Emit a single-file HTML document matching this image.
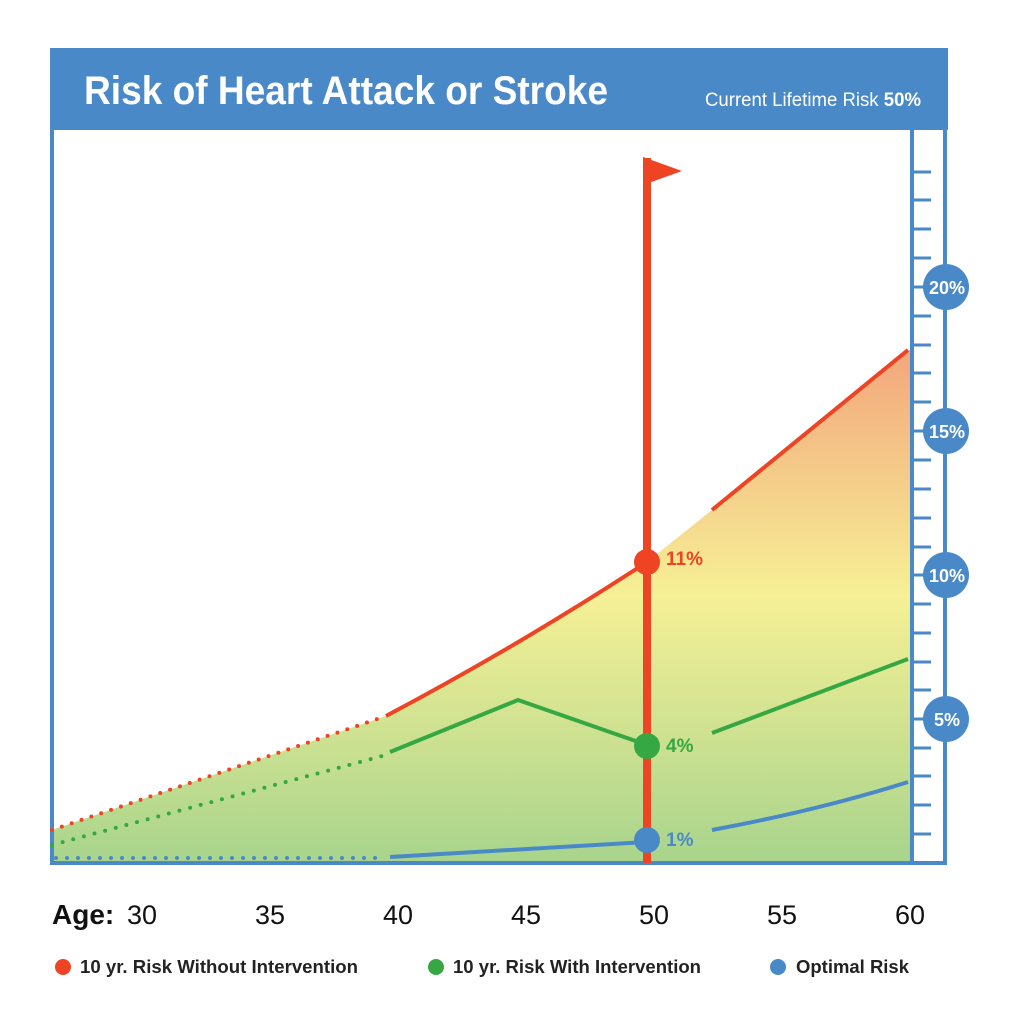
<!DOCTYPE html>
<html><head><style>
body{margin:0;background:#fff;}
svg text{font-family:"Liberation Sans",sans-serif;}
</style></head><body>
<svg width="1024" height="1019" viewBox="0 0 1024 1019" xmlns="http://www.w3.org/2000/svg">
<defs>
<linearGradient id="g" x1="0" y1="350" x2="0" y2="862" gradientUnits="userSpaceOnUse">
<stop offset="0" stop-color="#f3a67c"/>
<stop offset="0.48" stop-color="#f6f096"/>
<stop offset="1" stop-color="#a8d48c"/>
</linearGradient>
</defs>
<rect x="0" y="0" width="1024" height="1019" fill="#fff"/>
<!-- fill -->
<path d="M52,830 L386,716 Q520,645 647,562 L712,510 L910,350 L910,862 L52,862 Z" fill="url(#g)"/>
<!-- header -->
<rect x="50" y="48" width="898" height="82" fill="#4a89c8"/>
<text x="84" y="104" font-size="40" font-weight="bold" fill="#fff" textLength="524" lengthAdjust="spacingAndGlyphs">Risk of Heart Attack or Stroke</text>
<text x="705" y="106" font-size="19" fill="#fff" textLength="216" lengthAdjust="spacingAndGlyphs">Current Lifetime Risk <tspan font-weight="bold">50%</tspan></text>
<!-- frame -->
<line x1="52" y1="130" x2="52" y2="864" stroke="#4a89c8" stroke-width="4"/>
<line x1="50" y1="863" x2="947" y2="863" stroke="#4a89c8" stroke-width="4"/>
<line x1="912" y1="130" x2="912" y2="864" stroke="#4a89c8" stroke-width="4"/>
<line x1="945" y1="130" x2="945" y2="864" stroke="#4a89c8" stroke-width="4"/>
<g stroke="#4a89c8" stroke-width="3">
<line x1="912" y1="172" x2="931" y2="172"/><line x1="912" y1="200" x2="931" y2="200"/><line x1="912" y1="229" x2="931" y2="229"/><line x1="912" y1="258" x2="931" y2="258"/><line x1="912" y1="287" x2="931" y2="287"/><line x1="912" y1="316" x2="931" y2="316"/><line x1="912" y1="345" x2="931" y2="345"/><line x1="912" y1="373" x2="931" y2="373"/><line x1="912" y1="402" x2="931" y2="402"/><line x1="912" y1="431" x2="931" y2="431"/><line x1="912" y1="460" x2="931" y2="460"/><line x1="912" y1="489" x2="931" y2="489"/><line x1="912" y1="518" x2="931" y2="518"/><line x1="912" y1="547" x2="931" y2="547"/><line x1="912" y1="575" x2="931" y2="575"/><line x1="912" y1="604" x2="931" y2="604"/><line x1="912" y1="633" x2="931" y2="633"/><line x1="912" y1="662" x2="931" y2="662"/><line x1="912" y1="690" x2="931" y2="690"/><line x1="912" y1="719" x2="931" y2="719"/><line x1="912" y1="748" x2="931" y2="748"/><line x1="912" y1="776" x2="931" y2="776"/><line x1="912" y1="805" x2="931" y2="805"/><line x1="912" y1="834" x2="931" y2="834"/>
</g>
<g fill="#4a89c8"><circle cx="946" cy="287" r="23"/><circle cx="946" cy="431" r="23"/><circle cx="946" cy="575" r="23"/><circle cx="946" cy="719" r="23"/></g>
<g fill="#fff" font-size="18" font-weight="bold" text-anchor="middle">
<text x="947" y="294">20%</text><text x="947" y="438">15%</text><text x="947" y="582">10%</text><text x="947" y="726">5%</text>
</g>
<!-- red line -->
<path d="M52,830 L386,716" stroke="#ee4423" stroke-width="4" stroke-dasharray="0 10.4" stroke-linecap="round" fill="none"/>
<path d="M386,716 Q520,645 647,562" stroke="#ee4423" stroke-width="4" fill="none"/>
<path d="M712,510 L908,350" stroke="#ee4423" stroke-width="4" fill="none"/>
<!-- green -->
<path d="M52,845 L386,755" stroke="#35a844" stroke-width="4" stroke-dasharray="0 11" stroke-linecap="round" fill="none"/>
<path d="M390,752 L518,700 L647,745" stroke="#35a844" stroke-width="4" fill="none"/>
<path d="M712,733 L908,659" stroke="#35a844" stroke-width="4" fill="none"/>
<!-- blue -->
<path d="M56,858 L386,858" stroke="#4a89c8" stroke-width="4" stroke-dasharray="0 11" stroke-linecap="round" fill="none"/>
<path d="M390,857 L647,842" stroke="#4a89c8" stroke-width="4" fill="none"/>
<path d="M712,830 Q820,810 908,782" stroke="#4a89c8" stroke-width="4" fill="none"/>
<!-- flag -->
<rect x="643" y="158" width="8" height="705" fill="#ee4423"/>
<path d="M643,157 L682,171 L643,185 Z" fill="#ee4423"/>
<circle cx="647" cy="562" r="13" fill="#ee4423"/>
<circle cx="647" cy="746" r="13" fill="#35a844"/>
<circle cx="647" cy="840" r="13" fill="#4a89c8"/>
<text x="666" y="565" font-size="19" font-weight="bold" fill="#ee4423">11%</text>
<text x="666" y="752" font-size="19" font-weight="bold" fill="#35a844">4%</text>
<text x="666" y="846" font-size="19" font-weight="bold" fill="#4a89c8">1%</text>
<!-- x axis -->
<text x="52" y="924" font-size="28" font-weight="bold" fill="#111">Age:</text>
<g font-size="27" fill="#111" text-anchor="middle">
<text x="142" y="924">30</text><text x="270" y="924">35</text><text x="398" y="924">40</text><text x="526" y="924">45</text><text x="654" y="924">50</text><text x="782" y="924">55</text><text x="910" y="924">60</text>
</g>
<!-- legend -->
<circle cx="63" cy="967" r="8" fill="#ee4423"/>
<text x="80" y="973" font-size="18" font-weight="bold" fill="#222" textLength="278" lengthAdjust="spacingAndGlyphs">10 yr. Risk Without Intervention</text>
<circle cx="436" cy="967" r="8" fill="#35a844"/>
<text x="453" y="973" font-size="18" font-weight="bold" fill="#222" textLength="248" lengthAdjust="spacingAndGlyphs">10 yr. Risk With Intervention</text>
<circle cx="778" cy="967" r="8" fill="#4a89c8"/>
<text x="796" y="973" font-size="18" font-weight="bold" fill="#222" textLength="113" lengthAdjust="spacingAndGlyphs">Optimal Risk</text>
</svg>
</body></html>
